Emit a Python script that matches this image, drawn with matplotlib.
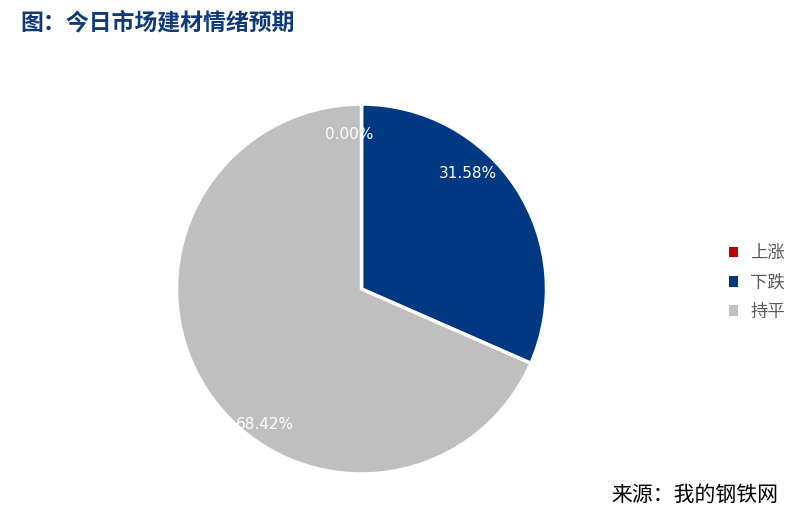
import numpy as np
import matplotlib
matplotlib.use("Agg")
import matplotlib.pyplot as plt
from matplotlib.patches import Patch

plt.rcParams['font.family'] = ['Noto Sans CJK SC', 'DejaVu Sans']

# data
categories = ["上涨", "下跌", "持平"]
values = [0.00, 31.58, 68.42]
colors = ["#C00000", "#003882", "#BFBFBF"]
# where the labels sit: (angle in deg, radius as fraction of pie radius)
label_spots = [(94.5, 0.84), (47.4, 0.85), (-125.6, 0.90)]

fig = plt.figure(figsize=(8.02, 5.31), dpi=100)
ax = fig.add_axes([0.2201, 0.1073, 0.4613, 0.6968])

wedges, texts, autotexts = ax.pie(
    values, colors=colors, startangle=90, counterclock=False,
    autopct="%.2f%%", pctdistance=0.85,
    wedgeprops=dict(edgecolor="white", linewidth=2.5),
    textprops=dict(color="white", fontsize=11, family=['DejaVu Sans']))
ax.set_xlim(-1, 1)
ax.set_ylim(-1, 1)
ax.set_aspect("equal")

for t, (ang, r) in zip(autotexts, label_spots):
    a = np.deg2rad(ang)
    t.set_position((r * np.cos(a), r * np.sin(a)))

handles = [Patch(facecolor=c, edgecolor="none") for c in colors]
fig.legend(handles, categories, loc="center left", bbox_to_anchor=(0.889, 0.468),
           frameon=False, fontsize=12.5, handlelength=0.55, handleheight=0.55,
           handletextpad=0.7, labelspacing=0.65, labelcolor="#595959")

fig.text(0.026, 0.957, "图：今日市场建材情绪预期", fontsize=16.5, fontweight="bold",
         color="#0E3A7A", ha="left", va="center")
fig.text(0.97, 0.068, "来源：我的钢铁网", fontsize=15, color="black",
         ha="right", va="center")

fig.savefig("out.png", dpi=100)
